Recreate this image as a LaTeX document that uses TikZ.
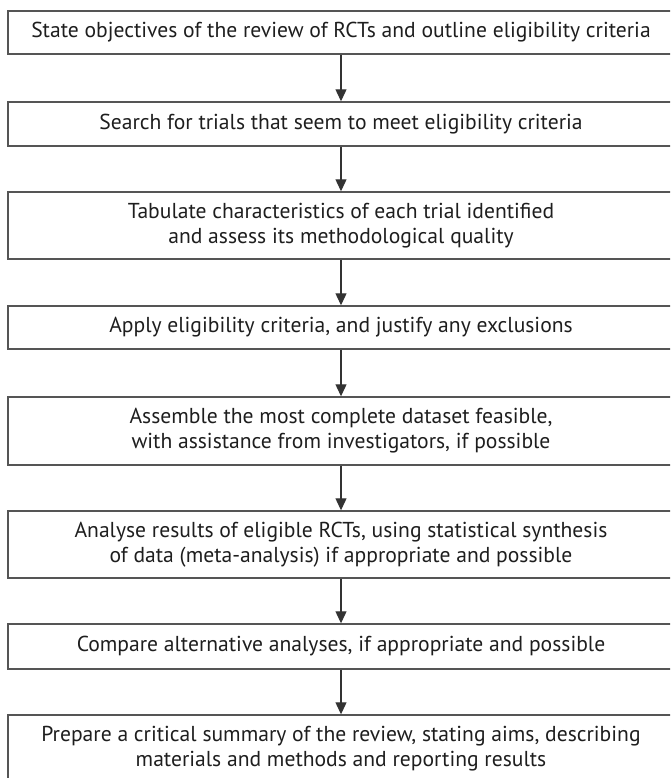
\documentclass[tikz,border=0pt]{standalone}
\usepackage{fontspec}
\setmainfont{PT Sans}
\usetikzlibrary{arrows.meta}
\definecolor{boxline}{HTML}{555555}
\definecolor{arrline}{HTML}{333333}
\definecolor{txt}{HTML}{1E1E1E}
\begin{document}
\begin{tikzpicture}[x=1pt,y=-1pt,
  stepbox/.style={draw=boxline, line width=1.4pt, minimum width=666pt, inner sep=0pt,
    align=center, font=\fontsize{21.6}{25}\selectfont, text=txt},
  flow/.style={draw=arrline, line width=1.2pt, -{Triangle[length=12pt,width=11pt]}}]
\useasboundingbox (0,0) rectangle (670,778);
\clip (0,0) rectangle (670,778);
\node[stepbox, minimum height=43pt] (b1) at (341,32.5) {State objectives of the review of RCTs and outline eligibility criteria};
\node[stepbox, minimum height=44pt] (b2) at (341,124) {Search for trials that seem to meet eligibility criteria};
\node[stepbox, minimum height=67pt] (b3) at (341,225.5) {Tabulate characteristics of each trial identified\\and assess its methodological quality};
\node[stepbox, minimum height=43pt] (b4) at (341,327.5) {Apply eligibility criteria, and justify any exclusions};
\node[stepbox, minimum height=68pt] (b5) at (341,431) {Assemble the most complete dataset feasible,\\with assistance from investigators, if possible};
\node[stepbox, minimum height=67pt] (b6) at (341,544.5) {Analyse results of eligible RCTs, using statistical synthesis\\of data (meta-analysis) if appropriate and possible};
\node[stepbox, minimum height=45pt] (b7) at (341,646.5) {Compare alternative analyses, if appropriate and possible};
\node[stepbox, minimum height=67pt] (b8) at (341,748.5) {Prepare a critical summary of the review, stating aims, describing\\materials and methods and reporting results};
\foreach \a/\b in {b1/b2,b2/b3,b3/b4,b4/b5,b5/b6,b6/b7,b7/b8}
  \draw[flow] (\a.south) -- (\b.north);
\end{tikzpicture}
\end{document}
